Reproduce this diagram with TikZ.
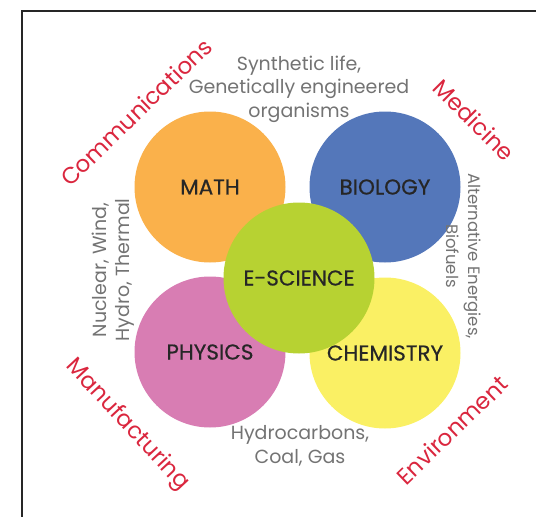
\documentclass[tikz,border=0pt]{standalone}
\usepackage{fontspec}
\setmainfont{Poppins}
\definecolor{mathc}{RGB}{250,177,75}
\definecolor{bioc}{RGB}{84,119,186}
\definecolor{physc}{RGB}{216,125,179}
\definecolor{chemc}{RGB}{250,240,100}
\definecolor{escic}{RGB}{183,210,50}
\definecolor{fieldred}{RGB}{218,38,62}
\begin{document}
\begin{tikzpicture}[x=1pt,y=-1pt,
    disc/.style={circle,minimum size=151pt,inner sep=0pt,text=black!85,
      font=\fontsize{21.5}{24}\selectfont\addfontfeature{FakeBold=0.5}},
    note/.style={align=center,text=black!55,font=\fontsize{19}{23.5}\selectfont},
    field/.style={text=fieldred,font=\fontsize{23}{25}\selectfont}]
  \useasboundingbox (0,0) rectangle (536,517);
  \draw[line width=1.5pt,black!85] (22,517) -- (22,11) -- (536,11);
  \path
    (210,187) node[disc,fill=mathc] (math){MATH}
    (385,187) node[disc,fill=bioc] (biology){BIOLOGY}
    (210,352) node[disc,fill=physc] (physics){PHYSICS}
    (385,353) node[disc,fill=chemc] (chemistry){CHEMISTRY}
    (299,278) node[disc,fill=escic] (escience){E-SCIENCE};
  \path
    (299,89) node[note] (synth){Synthetic life,\\Genetically engineered\\organisms}
    (113,270) node[note,rotate=90] (nuclear){Nuclear, Wind,\\Hydro, Thermal}
    (464,256) node[note,rotate=-90,font=\fontsize{16.5}{22}\selectfont] (altern){Alternative Energies,\\Biofuels}
    (300,446) node[note] (hydro){Hydrocarbons,\\Coal, Gas};
  \path
    (136,112) node[field,rotate=44] (comm){Communications}
    (474,120) node[field,rotate=-45] (medic){Medicine}
    (127,425) node[field,rotate=-47] (manuf){Manufacturing}
    (452,430) node[field,rotate=44] (envir){Environment};
\end{tikzpicture}
\end{document}
